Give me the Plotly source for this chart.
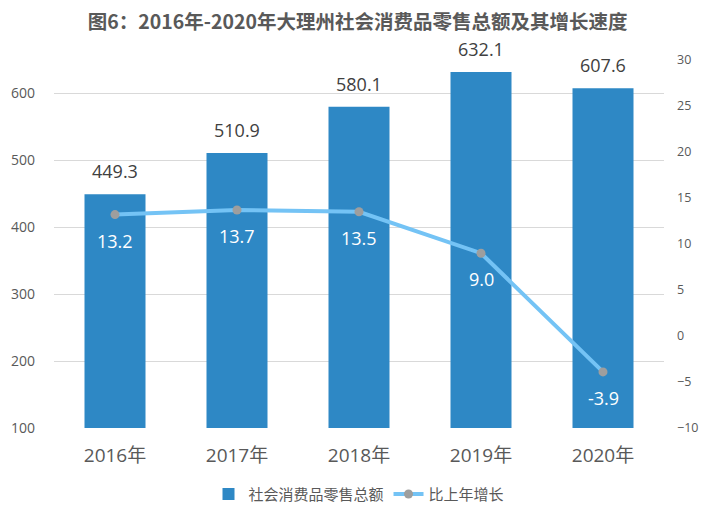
import plotly.graph_objects as go

years = ["2016年", "2017年", "2018年", "2019年", "2020年"]
sales = [449.3, 510.9, 580.1, 632.1, 607.6]
growth = [13.2, 13.7, 13.5, 9.0, -3.9]

FONT = "Open Sans, Noto Sans CJK SC, sans-serif"
GRAY = "#595959"

fig = go.Figure()
fig.add_trace(go.Bar(
    x=years, y=sales, name="社会消费品零售总额",
    marker=dict(color="#2E88C5", line=dict(width=0)),
    yaxis="y",
))
fig.add_trace(go.Scatter(
    x=years, y=growth, name="比上年增长", mode="lines+markers",
    line=dict(color="#74C3F5", width=4),
    marker=dict(color="#9E9E9E", size=9),
    yaxis="y2",
))

annotations = []
for x, v in zip(years, sales):
    annotations.append(dict(x=x, y=v, xref="x", yref="y", text=f"{v:.1f}",
                            showarrow=False, yshift=23,
                            font=dict(size=18, color="#404040", family=FONT)))
for x, v in zip(years, growth):
    annotations.append(dict(x=x, y=v, xref="x", yref="y2", text=f"{v:.1f}",
                            showarrow=False, yshift=-26,
                            font=dict(size=18, color="white", family=FONT)))

fig.update_layout(
    width=708, height=517,
    margin=dict(l=54, r=44, t=60, b=89, autoexpand=False),
    paper_bgcolor="white", plot_bgcolor="white",
    font=dict(family=FONT, color=GRAY),
    title=dict(text="<b>图6：2016年-2020年大理州社会消费品零售总额及其增长速度</b>",
               x=0.505, xanchor="center", y=0.958, yanchor="middle",
               font=dict(size=19.5, color=GRAY, family="Noto Sans CJK SC, sans-serif")),
    bargap=0.5,
    xaxis=dict(showgrid=False, showline=False, ticks="", automargin=False,
               tickfont=dict(size=19, color=GRAY, family=FONT),
               ticklabelstandoff=14),
    yaxis=dict(range=[100, 650], tickvals=[100, 200, 300, 400, 500, 600],
               showgrid=True, gridcolor="#D9D9D9", gridwidth=1, automargin=False,
               zeroline=False, showline=False, ticks="",
               tickfont=dict(size=14, color=GRAY, family=FONT),
               ticklabelstandoff=18),
    yaxis2=dict(range=[-10, 30], dtick=5, overlaying="y", side="right",
                showgrid=False, zeroline=False, showline=False, ticks="", automargin=False,
                tickfont=dict(size=12.5, color=GRAY, family=FONT),
                ticklabelstandoff=12),
    legend=dict(orientation="h", x=0.5, xanchor="center", y=-0.18, yanchor="middle",
                font=dict(size=15, color=GRAY, family="Noto Sans CJK SC, sans-serif"),
                itemwidth=30),
    annotations=annotations,
    showlegend=True,
)

fig.write_html("out.html", config={"displayModeBar": False},
               post_script="document.body.style.margin='0px';")
